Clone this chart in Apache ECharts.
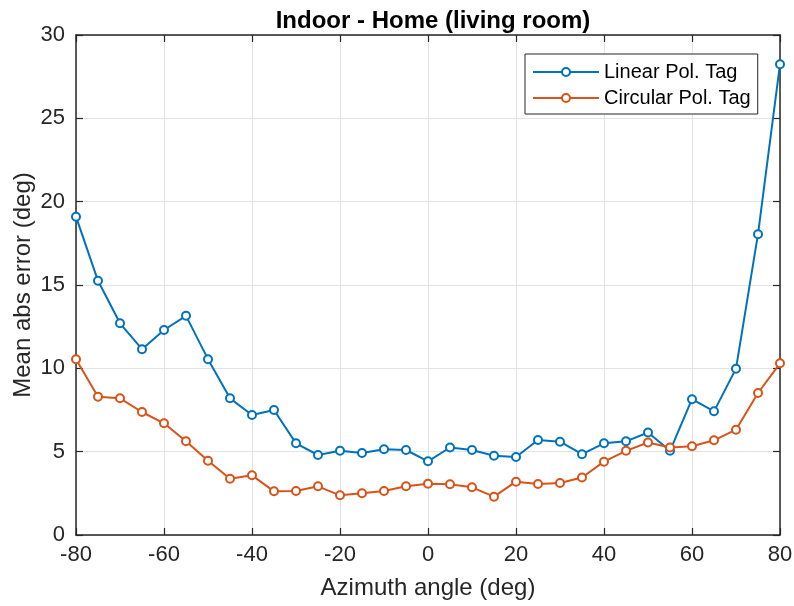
<!DOCTYPE html>
<html>
<head>
<meta charset="utf-8">
<script src="https://cdn.jsdelivr.net/npm/echarts@6/dist/echarts.min.js"></script>
<style>
  html, body { margin: 0; padding: 0; background: #fff; }
  #chart { width: 794px; height: 606px; }
</style>
</head>
<body>
<div id="chart"></div>
<script>
const angles = [-80, -75, -70, -65, -60, -55, -50, -45, -40, -35, -30, -25, -20, -15, -10, -5,
  0, 5, 10, 15, 20, 25, 30, 35, 40, 45, 50, 55, 60, 65, 70, 75, 80];
const linearTag = [19.1, 15.25, 12.7, 11.15, 12.3, 13.15, 10.55, 8.2, 7.2, 7.5, 5.5, 4.8, 5.05, 4.92, 5.15, 5.1,
  4.42, 5.25, 5.1, 4.75, 4.68, 5.7, 5.6, 4.85, 5.5, 5.62, 6.15, 5.05, 8.15, 7.42, 9.98, 18.05, 28.25];
const circularTag = [10.55, 8.3, 8.2, 7.38, 6.7, 5.62, 4.45, 3.38, 3.58, 2.62, 2.64, 2.92, 2.38, 2.5, 2.64, 2.92,
  3.08, 3.04, 2.86, 2.3, 3.2, 3.06, 3.12, 3.45, 4.4, 5.05, 5.55, 5.25, 5.32, 5.68, 6.32, 8.52, 10.3];

const blue = '#0072BD';
const orange = '#D95319';
const axisColor = '#262626';
const font = "'Liberation Sans', Arial, sans-serif";

const chart = echarts.init(document.getElementById('chart'));

function makeSeries(name, values, color) {
  return {
    name: name,
    type: 'line',
    data: angles.map((a, i) => [a, values[i]]),
    symbol: 'emptyCircle',
    symbolSize: 8,
    showSymbol: true,
    lineStyle: { color: color, width: 2 },
    itemStyle: { color: color, borderColor: color, borderWidth: 1.8 },
    emphasis: { disabled: true }
  };
}

// top / right frame with inward ticks, no labels
const boxAxis = {
  axisLine: { show: true, onZero: false, lineStyle: { color: axisColor, width: 1.5 } },
  axisTick: { show: true, inside: true, length: 7, lineStyle: { color: axisColor, width: 1.2 } },
  axisLabel: { show: false },
  splitLine: { show: false }
};

chart.setOption({
  animation: false,
  title: {
    text: 'Indoor - Home (living room)',
    left: 428,
    top: 4,
    textAlign: 'center',
    textStyle: { fontFamily: font, fontSize: 24, fontWeight: 'bold', color: '#000' }
  },
  legend: {
    left: 525,
    top: 54,
    orient: 'vertical',
    itemWidth: 66,
    itemHeight: 10,
    itemGap: 6,
    itemTextGap: 6,
    padding: [8, 7, 6, 7],
    borderColor: axisColor,
    borderWidth: 1,
    backgroundColor: '#fff',
    textStyle: { fontFamily: font, fontSize: 20, color: '#000' },
    data: ['Linear Pol. Tag', 'Circular Pol. Tag']
  },
  grid: { left: 76, right: 14, top: 35, bottom: 71, outerBoundsMode: 'none' },
  xAxis: [
    {
      type: 'value',
      min: -80, max: 80, interval: 20,
      name: 'Azimuth angle (deg)',
      nameLocation: 'middle',
      nameGap: 41,
      nameMoveOverlap: false,
      nameTextStyle: { fontFamily: font, fontSize: 24, color: '#262626' },
      axisLine: { show: true, onZero: false, lineStyle: { color: axisColor, width: 1.5 } },
      axisTick: { show: true, inside: true, length: 7, lineStyle: { color: axisColor, width: 1.2 } },
      axisLabel: { fontFamily: font, fontSize: 22, color: '#262626', margin: 9 },
      splitLine: { show: true, lineStyle: { color: '#e3e3e3', width: 1 } }
    },
    Object.assign({ type: 'value', position: 'top', min: -80, max: 80, interval: 20 }, boxAxis)
  ],
  yAxis: [
    {
      type: 'value',
      min: 0, max: 30, interval: 5,
      name: 'Mean abs error (deg)',
      nameLocation: 'middle',
      nameGap: 41,
      nameMoveOverlap: false,
      nameTextStyle: { fontFamily: font, fontSize: 24, color: '#262626' },
      axisLine: { show: true, onZero: false, lineStyle: { color: axisColor, width: 1.5 } },
      axisTick: { show: true, inside: true, length: 7, lineStyle: { color: axisColor, width: 1.2 } },
      axisLabel: { fontFamily: font, fontSize: 22, color: '#262626', margin: 11 },
      splitLine: { show: true, lineStyle: { color: '#e3e3e3', width: 1 } }
    },
    Object.assign({ type: 'value', position: 'right', min: 0, max: 30, interval: 5 }, boxAxis)
  ],
  series: [
    makeSeries('Linear Pol. Tag', linearTag, blue),
    makeSeries('Circular Pol. Tag', circularTag, orange)
  ]
});
</script>
</body>
</html>
